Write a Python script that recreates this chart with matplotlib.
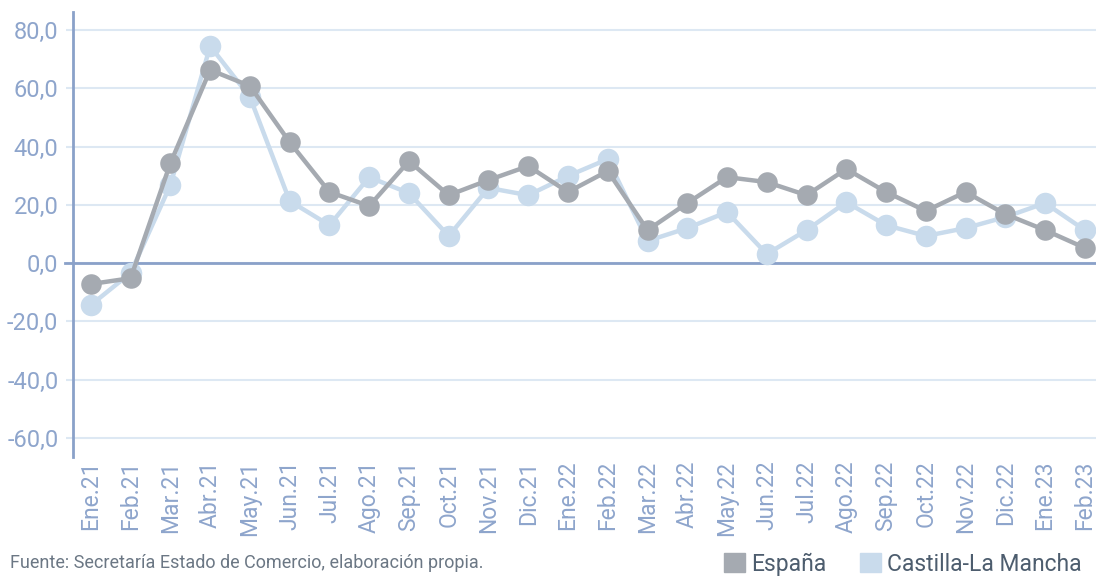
import numpy as np
import matplotlib
matplotlib.use("Agg")
import matplotlib.pyplot as plt
from matplotlib.patches import Patch
from matplotlib.ticker import FuncFormatter

plt.rcParams['font.family'] = ['Roboto', 'DejaVu Sans']

meses = ['Ene.21', 'Feb.21', 'Mar.21', 'Abr.21', 'May.21', 'Jun.21', 'Jul.21',
         'Ago.21', 'Sep.21', 'Oct.21', 'Nov.21', 'Dic.21', 'Ene.22', 'Feb.22',
         'Mar.22', 'Abr.22', 'May.22', 'Jun.22', 'Jul.22', 'Ago.22', 'Sep.22',
         'Oct.22', 'Nov.22', 'Dic.22', 'Ene.23', 'Feb.23']

espana = [-7.2, -5.2, 34.3, 66.3, 60.8, 41.5, 24.4, 19.6, 35.0, 23.3, 28.5, 33.3,
          24.4, 31.6, 11.3, 20.6, 29.5, 27.8, 23.3, 32.3, 24.4, 17.9, 24.4, 16.8,
          11.3, 5.2]

clm = [-14.4, -3.4, 26.8, 74.5, 57.0, 21.3, 13.0, 29.5, 24.0, 9.3, 25.8, 23.3,
       29.9, 35.7, 7.6, 12.0, 17.5, 3.1, 11.3, 20.9, 13.0, 9.3, 12.0, 15.8,
       20.6, 11.3]

yticks = [-60, -40, -20, 0, 20, 40, 60, 80]

gris = '#a5aab1'
celeste = '#c9dbec'
eje = '#8aa1c9'
rejilla = '#dde8f3'
txt_eje = '#8ea5cc'

fig = plt.figure(figsize=(10.96, 5.78), dpi=100)
ax = fig.add_axes([0.0666, 0.2093, 0.9334, 0.7699])

x = np.arange(len(meses))

ax.plot(x, clm, color=celeste, lw=3.2, marker='o', ms=15.5,
        markeredgewidth=0, zorder=3)
ax.plot(x, espana, color=gris, lw=3.2, marker='o', ms=14.8,
        markeredgewidth=0, zorder=4)

ax.set_xlim(-0.45, 25.28)
ax.set_ylim(-66.6, 86.2)

ax.set_yticks(yticks)
ax.yaxis.set_major_formatter(FuncFormatter(lambda v, p: f'{v:.1f}'.replace('.', ',')))
ax.grid(axis='y', color=rejilla, lw=1.5, zorder=0)
ax.tick_params(axis='y', length=5, width=1.5, color=rejilla, pad=5.5,
               labelsize=17, labelcolor=txt_eje)
ax.axhline(0, color=eje, lw=2, xmin=-0.0075, clip_on=False, zorder=2)

ax.set_xticks(x)
ax.set_xticklabels(meses, rotation=90, fontsize=16.5, color=txt_eje)
ax.tick_params(axis='x', length=0, pad=2.5)

for s in ['top', 'right', 'bottom']:
    ax.spines[s].set_visible(False)
ax.spines['left'].set_color(eje)
ax.spines['left'].set_linewidth(2)

fig.text(0.009, 0.018, 'Fuente: Secretaría Estado de Comercio, elaboración propia.',
         fontsize=13, color='#6b7784')

handles = [Patch(color=gris, label='España'),
           Patch(color=celeste, label='Castilla-La Mancha')]
leg = fig.legend(handles=handles, loc='lower left', bbox_to_anchor=(0.661, 0.004),
                 ncol=2, frameon=False, fontsize=16.5, handlelength=0.9,
                 handleheight=0.9, handletextpad=0.25, columnspacing=1.5,
                 borderpad=0, borderaxespad=0)
for t in leg.get_texts():
    t.set_color('#4d5d6e')

fig.savefig('out.png', dpi=100)
